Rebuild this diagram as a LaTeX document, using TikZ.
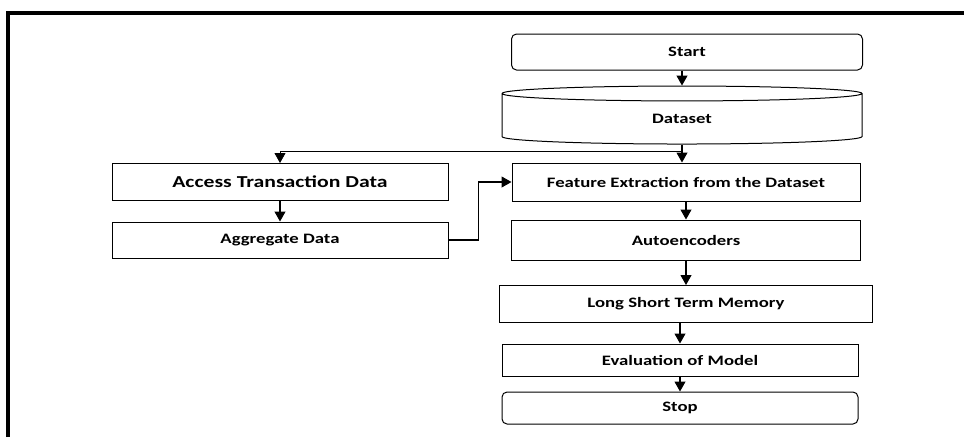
\documentclass[tikz,border=0pt]{standalone}
\usepackage{fontspec}
\setmainfont{Carlito}[FakeStretch=1.3]
\usetikzlibrary{shapes.geometric,arrows.meta}

\begin{document}
\begin{tikzpicture}[x=1pt,y=-1pt,
  box/.style={draw, line width=1pt, inner sep=0pt, font=\fontsize{14.4}{16}\selectfont\bfseries},
  term/.style={box, rounded corners=5pt},
  arr/.style={line width=1.1pt, -{Triangle[length=10pt,width=11pt]}}]
  \useasboundingbox (0,0) rectangle (964,437);
  \draw[line width=4.5pt] (8,437) -- (8,13) -- (964,13);
  \node[term, minimum width=351pt, minimum height=36pt] (start) at (687,52) {Start};
  \node[box, cylinder, shape border rotate=90, aspect=0.25, minimum width=360pt, minimum height=58pt] (data) at (682,119) {Dataset};
  \node[box, minimum width=336pt, minimum height=37pt, font=\fontsize{16.7}{18}\selectfont\bfseries] (access) at (280,182) {Access Transaction Data};
  \node[box, minimum width=336pt, minimum height=36pt] (agg) at (280,240) {Aggregate Data};
  \node[box, minimum width=348pt, minimum height=38pt] (feat) at (686,182) {Feature Extraction from the Dataset};
  \node[box, minimum width=349pt, minimum height=40pt] (auto) at (686,240) {Autoencoders};
  \node[box, minimum width=373pt, minimum height=37pt] (lstm) at (686,304) {Long Short Term Memory};
  \node[box, minimum width=356pt, minimum height=32pt] (eval) at (680,360) {Evaluation of Model};
  \node[term, minimum width=356pt, minimum height=32pt] (stop) at (680,408) {Stop};
  \coordinate (split) at (682,151);
  \draw[arr] (start.south -| data) -- (data);
  \draw[arr] (data) -- (data |- feat.north);
  \draw[arr, line width=0.8pt] (split) -| (access);
  \draw[arr] (access) -- (agg);
  \draw[arr] (agg.east) -- ++(30,0) |- (feat.west);
  \draw[arr] (feat) -- (auto);
  \draw[arr] (auto) -- (lstm);
  \draw[arr] (lstm.south -| eval) -- (eval);
  \draw[arr] (eval) -- (stop);
\end{tikzpicture}
\end{document}
